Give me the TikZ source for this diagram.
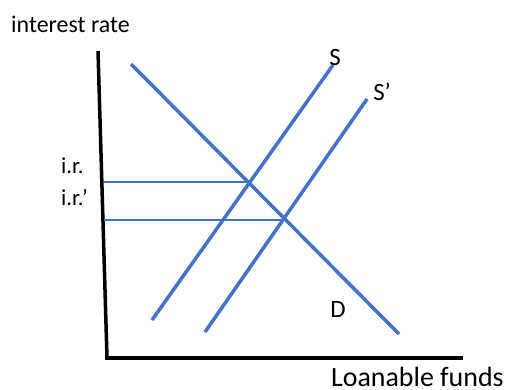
\documentclass[tikz,border=0pt]{standalone}
\usepackage{fontspec}
\setmainfont{Carlito}
\definecolor{office}{HTML}{4472C4}
\begin{document}
\begin{tikzpicture}[x=1bp,y=-1bp,
  curve/.style={draw=office,line width=3.5bp},
  guide/.style={draw=office,line width=1.2bp},
  axis/.style={draw=black,line width=3.5bp},
  lbl/.style={font=\fontsize{25}{30}\selectfont,inner sep=0pt}]
\useasboundingbox (0,0) rectangle (511,389);
% axes
\coordinate (ytop) at (98,51);
\coordinate (orig) at (107,358);
\coordinate (xstart) at (105,358);
\coordinate (xend) at (463,358);
\draw[axis] (ytop) -- (orig);
\draw[axis] (xstart) -- (xend);
% demand
\coordinate (d1) at (131,64);
\coordinate (d2) at (399,334);
\draw[curve] (d1) -- (d2);
% supply
\coordinate (s1) at (152,320);
\coordinate (s2) at (333,65);
\draw[curve] (s1) -- (s2);
\coordinate (t1) at (205,332);
\coordinate (t2) at (367,99);
\draw[curve] (t1) -- (t2);
% equilibrium guides
\coordinate (e1) at (249,182);
\coordinate (e2) at (285,220);
\coordinate (g1) at (104,182);
\coordinate (g2) at (104,220);
\draw[guide] (g1) -- (e1);
\draw[guide] (g2) -- (e2);
% labels
\node[lbl,font=\fontsize{24}{29}\selectfont,anchor=base west] (yl) at (11,32) {interest rate};
\node[lbl,font=\fontsize{23}{28}\selectfont,anchor=base west] (ir1) at (61,173) {i.r.};
\node[lbl,font=\fontsize{23}{28}\selectfont,anchor=base west] (ir2) at (61,205) {i.r.’};
\node[lbl,anchor=base] (sl) at (335,65) {S};
\node[lbl,anchor=base] (spl) at (382,100) {S’};
\node[lbl,anchor=base] (dl) at (338,317) {D};
\node[lbl,font=\fontsize{28}{33}\selectfont,anchor=base west] (xl) at (331,386) {Loanable funds};
\end{tikzpicture}
\end{document}
